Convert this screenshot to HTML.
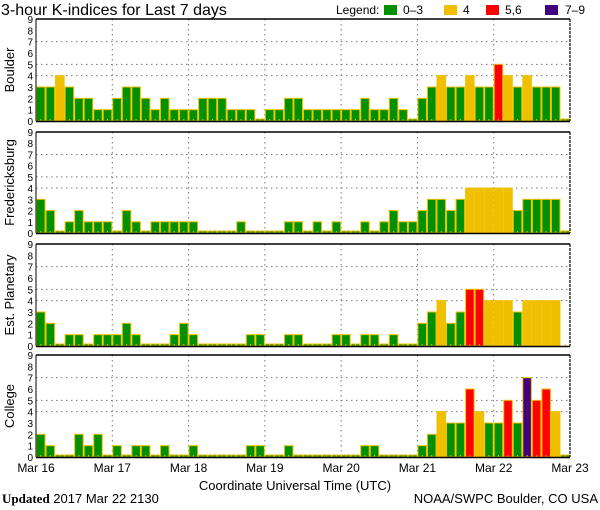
<!DOCTYPE html>
<html><head><meta charset="utf-8"><style>
html,body{margin:0;padding:0;background:#fff;width:600px;height:510px;overflow:hidden}
svg{display:block;font-family:"Liberation Sans",sans-serif}
</style></head><body>
<svg id="c" width="600" height="510">
<text x="1" y="15" font-size="16">3-hour K-indices for Last 7 days</text>
<g font-size="12">
<text x="336" y="14">Legend:</text>
<rect x="384" y="5" width="13" height="10" fill="#009000"/>
<text x="403" y="14">0–3</text>
<rect x="444" y="5" width="13" height="10" fill="#f0c000"/>
<text x="463" y="14">4</text>
<rect x="486" y="5" width="13" height="10" fill="#ff0000"/>
<text x="505" y="14">5,6</text>
<rect x="545" y="5" width="13" height="10" fill="#400080"/>
<text x="565" y="14">7–9</text>
</g>
<text x="295" y="490" font-size="13" text-anchor="middle">Coordinate Universal Time (UTC)</text>
<text x="2" y="503" font-size="13"><tspan font-weight="bold" font-family="Liberation Serif,serif">Updated</tspan> 2017 Mar 22 2130</text>
<text x="598" y="503" font-size="13" text-anchor="end">NOAA/SWPC Boulder, CO USA</text>
</svg>
<script>
const days = ["Mar 16","Mar 17","Mar 18","Mar 19","Mar 20","Mar 21","Mar 22","Mar 23"];
const stations = ["Boulder","Fredericksburg","Est. Planetary","College"];
const yTicks = [0,1,2,3,4,5,6,7,8,9];
const gridLevels = [4,5,7];
const boulder = [3,3,4,3,2,2,1,1, 2,3,3,2,1,2,1,1, 1,2,2,2,1,1,1,0, 1,1,2,2,1,1,1,1, 1,1,2,1,1,2,1,0, 2,3,4,3,3,4,3,3, 5,4,3,4,3,3,3,0];
const fredericksburg = [3,2,0,1,2,1,1,1, 0,2,1,0,1,1,1,1, 1,0,0,0,0,1,0,0, 0,0,1,1,0,1,0,1, 0,0,1,0,1,2,1,1, 2,3,3,2,3,4,4,4, 4,4,2,3,3,3,3,0];
const planetary = [3,2,0,1,1,0,1,1, 1,2,1,0,0,0,1,2, 1,0,0,0,0,0,1,1, 0,0,1,1,0,0,0,1, 1,0,1,1,0,1,0,0, 2,3,4,2,3,5,5,4, 4,4,3,4,4,4,4,null];
const college = [2,1,0,0,2,1,2,0, 1,0,1,1,0,1,0,0, 1,0,0,0,0,0,1,1, 0,0,1,0,0,0,0,0, 0,0,1,1,0,0,0,0, 1,2,4,3,3,6,4,3, 3,5,3,7,5,6,4,0];
const series = [boulder,fredericksburg,planetary,college];

const svg=document.getElementById('c');
const NS='http://www.w3.org/2000/svg';
const X0=36,X1=570,N=56;
const tops=[19,132,244,355], zeros=[121,233,346,457];
const bw=(X1-X0)/N;
const xs=i=>X0+i*bw;
function mk(t,a,p){const e=document.createElementNS(NS,t);for(const k in a)e.setAttribute(k,a[k]);(p||svg).appendChild(e);return e;}
function color(v){return v<=3?'#009000':v==4?'#f0c000':v<=6?'#ff0000':'#400080';}

series.forEach((data,p)=>{
  const top=tops[p],z=zeros[p],u=(z-top)/9;
  const ys=v=>z-v*u;
  const g=mk('g',{});
  
  
  gridLevels.forEach(v=>{const l=mk('line',{x1:X0,x2:X1,y1:ys(v),y2:ys(v),stroke:'#777','stroke-dasharray':'1.5,3.5'},g);
    });
  for(let d=1;d<7;d++){const l=mk('line',{x1:xs(d*8),x2:xs(d*8),y1:top,y2:z,stroke:'#777','stroke-dasharray':'1.5,3.5'},g);
    }
  data.forEach((v,i)=>{
    if(v===null||v===undefined)return;
    const h=v===0?2:v*u;
    const r=mk('rect',{x:xs(i)+0.5,y:z-h,width:bw-1,height:h,fill:color(v),stroke:'#f0c000','stroke-width':1},g);
    
    
  });
  for(let i=0;i<N;i++){mk('line',{x1:xs(i)+bw/2,x2:xs(i)+bw/2,y1:z,y2:z-2,stroke:'#f0c000'},g);}
  yTicks.forEach(v=>{const t=mk('text',{x:X0-3,y:ys(v)+4,'font-size':10,'text-anchor':'end'},g);t.textContent=v;
    });
  mk('line',{x1:X0,x2:X1,y1:top,y2:top,stroke:'#000','stroke-width':1.5},g);
  mk('line',{x1:X0,x2:X1,y1:z+0.5,y2:z+0.5,stroke:'#000','stroke-width':1.5},g);
  mk('line',{x1:X0,x2:X0,y1:top,y2:z,stroke:'#000','stroke-width':1},g);
  mk('line',{x1:X1,x2:X1,y1:top,y2:z,stroke:'#000','stroke-width':1.2,'stroke-dasharray':'3,1'},g);
  const cy=(top+z)/2;
  const lab=mk('text',{x:0,y:0,'font-size':13,'text-anchor':'middle',transform:`translate(14,${cy}) rotate(-90)`},g);
  lab.textContent=stations[p];
  
  
});
days.forEach((d,i)=>{const t=mk('text',{x:xs(i*8),y:472,'font-size':12,'text-anchor':'middle'});t.textContent=d;
  });
</script>
</body></html>
